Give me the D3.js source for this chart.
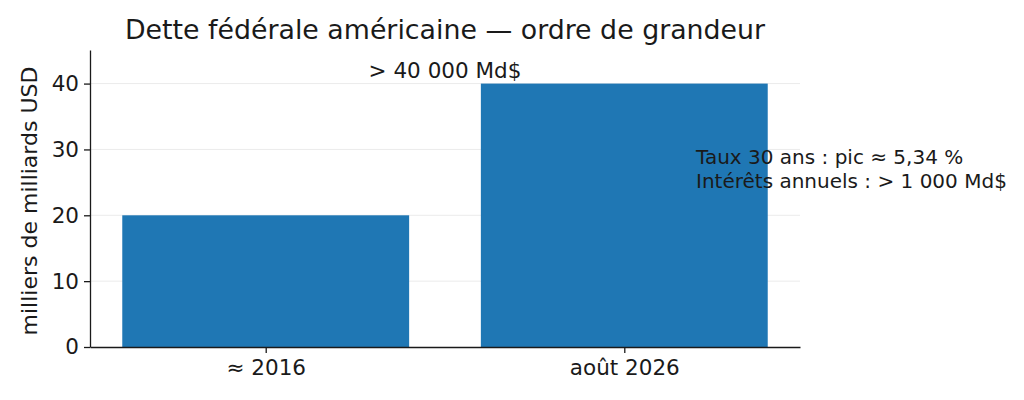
<!DOCTYPE html>
<html>
<head>
<meta charset="utf-8">
<script src="https://cdn.jsdelivr.net/npm/d3@7"></script>
<style>
  body { margin: 0; background: #fff; }
  text { font-family: "DejaVu Sans", sans-serif; fill: #1a1a1a; }
</style>
</head>
<body>
<svg id="chart" width="1024" height="400"></svg>
<script>
let categories = ["≈ 2016", "août 2026"];
let debtValues = [20, 40];
let yTicks = [0, 10, 20, 30, 40];
let topLabel = "> 40 000 Md$";
let sideLines = ["Taux 30 ans : pic ≈ 5,34 %", "Intérêts annuels : > 1 000 Md$"];

let barColor = "#1f77b4";
let textColor = "#1a1a1a";

let margin = { left: 90, right: 224, top: 50, bottom: 53 };
let width = 1024, height = 400;

let svg = d3.select("#chart");

let xScale = d3.scaleLinear()
  .domain([-0.49, 1.49])
  .range([margin.left, width - margin.right]);

let yScale = d3.scaleLinear()
  .domain([0, 45.1])
  .range([height - margin.bottom, margin.top]);

let barWidth = 0.8;

// grid lines
svg.selectAll(".grid")
  .data(yTicks.filter(d => d > 0))
  .enter()
  .append("line")
    .attr("x1", margin.left)
    .attr("x2", width - margin.right)
    .attr("y1", d => yScale(d))
    .attr("y2", d => yScale(d))
    .style("stroke", "#ebebeb")
    .style("stroke-width", 1);

// bars
svg.selectAll(".bar")
  .data(debtValues)
  .enter()
  .append("rect")
    .attr("x", (d, i) => xScale(i - barWidth/2))
    .attr("y", d => yScale(d))
    .attr("width", xScale(barWidth) - xScale(0))
    .attr("height", d => yScale(0) - yScale(d))
    .style("fill", barColor);

// y axis
let yAxis = svg.append("g")
  .attr("transform", `translate(${margin.left},0)`)
  .call(d3.axisLeft(yScale).tickValues(yTicks).tickSize(6).tickPadding(5).tickSizeOuter(0));
yAxis.select(".domain").style("stroke", textColor).style("stroke-width", 1.3);
yAxis.selectAll(".tick line").style("stroke", textColor).style("stroke-width", 1.3);
yAxis.selectAll(".tick text").style("font-size", "21.5px").style("fill", textColor);

// x axis
let xAxis = svg.append("g")
  .attr("transform", `translate(0,${yScale(0)})`)
  .call(d3.axisBottom(xScale).tickValues([0, 1]).tickFormat((d, i) => categories[i])
    .tickSize(6).tickPadding(7).tickSizeOuter(0));
xAxis.select(".domain").style("stroke", textColor).style("stroke-width", 1.3);
xAxis.selectAll(".tick line").style("stroke", textColor).style("stroke-width", 1.3);
xAxis.selectAll(".tick text").style("font-size", "21.5px").style("fill", textColor);

// y label
svg.append("text")
  .attr("transform", `translate(37,201) rotate(-90)`)
  .attr("text-anchor", "middle")
  .style("font-size", "22px")
  .text("milliers de milliards USD");

// title
svg.append("text")
  .attr("x", (margin.left + width - margin.right)/2)
  .attr("y", 39)
  .attr("text-anchor", "middle")
  .style("font-size", "26.8px")
  .text("Dette fédérale américaine — ordre de grandeur");

// annotations
svg.append("text")
  .attr("x", xScale(0.5))
  .attr("y", yScale(40.8))
  .attr("text-anchor", "middle")
  .style("font-size", "21.5px")
  .text(topLabel);

svg.selectAll(".side")
  .data(sideLines)
  .enter()
  .append("text")
    .attr("x", xScale(1.2))
    .attr("y", (d, i) => yScale(27) - 5 + i * 24)
    .style("font-size", "20px")
    .text(d => d);
</script>
</body>
</html>
